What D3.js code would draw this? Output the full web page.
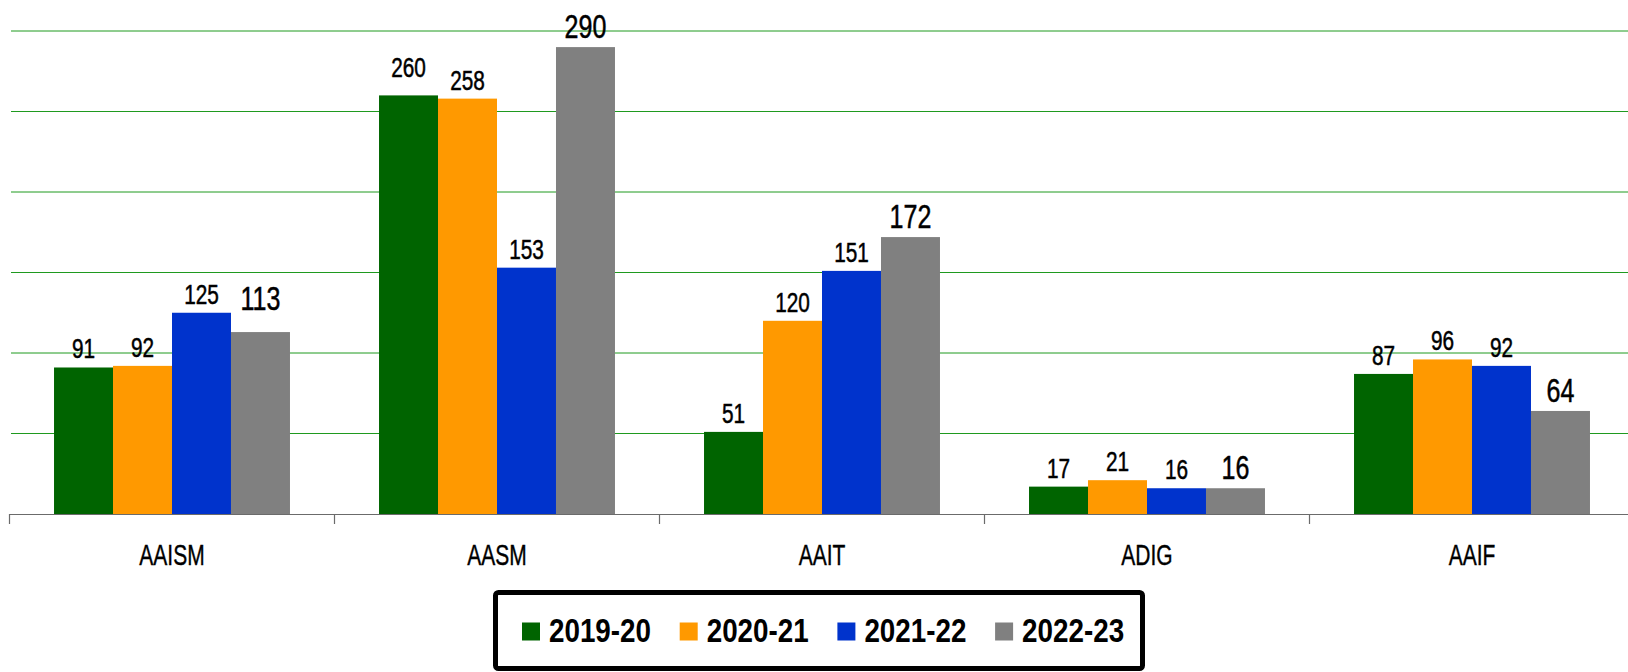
<!DOCTYPE html>
<meta charset="utf-8">
<head>
    <meta charset="utf-8">
    <title>Grouped bars</title>
    <script src="https://d3js.org/d3.v7.min.js"></script>
    <style>
        body { margin: 0; background: #fff; }
        text { font-family: "Liberation Sans", Arial, sans-serif; }
    </style>
</head>
<body>
    <svg width="1628" height="672"></svg>
    <script>
        // data
        var categories = ["AAISM", "AASM", "AAIT", "ADIG", "AAIF"];
        var seriesNames = ["2019-20", "2020-21", "2021-22", "2022-23"];
        var v2019 = [91, 260, 51, 17, 87];
        var v2020 = [92, 258, 120, 21, 96];
        var v2021 = [125, 153, 151, 16, 92];
        var v2022 = [113, 290, 172, 16, 64];
        var yTicks = [0, 50, 100, 150, 200, 250, 300];

        var colors = ["#006400", "#ff9900", "#0033cc", "#808080"];
        var allValues = [v2019, v2020, v2021, v2022];

        // a couple of labels sit a bit higher in the original
        var labelLift = { "AASM|0": 9, "AAISM|3": 13 };

        var svg = d3.select("svg");

        var x0 = d3.scaleBand()
            .domain(categories)
            .range([9.5, 9.5 + 325 * 5])
            .paddingInner(0.274)
            .paddingOuter(0.137);

        var x1 = d3.scaleBand()
            .domain(d3.range(seriesNames.length))
            .range([0, x0.bandwidth()]);

        var y = d3.scaleLinear()
            .domain([0, 300])
            .range([514, 31]);

        // gridlines
        svg.append("g")
            .selectAll("line")
            .data(yTicks.filter(function (d) { return d > 0; }))
            .enter().append("line")
            .attr("x1", 11)
            .attr("x2", 1628)
            .attr("y1", function (d) { return y(d); })
            .attr("y2", function (d) { return y(d); })
            .style("stroke", "#1f9a1f")
            .style("stroke-width", 1);

        // bars
        var groups = svg.append("g")
            .selectAll("g")
            .data(categories)
            .enter().append("g")
            .attr("transform", function (d) { return "translate(" + x0(d) + ",0)"; });

        function rows(c, ci) {
            return allValues.map(function (vals, si) { return { cat: c, s: si, v: vals[ci] }; });
        }

        groups.selectAll("rect")
            .data(rows)
            .enter().append("rect")
            .attr("x", function (d) { return x1(d.s); })
            .attr("width", x1.bandwidth())
            .attr("y", function (d) { return y(d.v); })
            .attr("height", function (d) { return y(0) - y(d.v); })
            .style("fill", function (d) { return colors[d.s]; });

        // value labels (condensed look via horizontal squeeze)
        groups.selectAll("g.lbl")
            .data(rows)
            .enter().append("g")
            .attr("class", "lbl")
            .attr("transform", function (d) {
                var lift = labelLift[d.cat + "|" + d.s] || 0;
                return "translate(" + (x1(d.s) + x1.bandwidth() / 2) + "," + (y(d.v) - 9 - lift) + ")";
            })
            .append("text")
            .attr("text-anchor", "middle")
            .attr("transform", "scale(0.77,1)")
            .style("font-size", function (d) { return d.s == 3 ? "32.5px" : "27px"; })
            .style("stroke", "#000")
            .style("stroke-width", 0.5)
            .style("fill", "#000")
            .text(function (d) { return d.v; });

        // x axis
        var axis = svg.append("g");
        axis.append("line")
            .attr("x1", 10).attr("x2", 1628)
            .attr("y1", 514.5).attr("y2", 514.5)
            .style("stroke", "#6b6b6b")
            .style("stroke-width", 1.2);

        axis.selectAll("line.tick")
            .data(categories)
            .enter().append("line")
            .attr("class", "tick")
            .attr("x1", function (d) { return x0(d) - x0.step() * 0.137; })
            .attr("x2", function (d) { return x0(d) - x0.step() * 0.137; })
            .attr("y1", 514)
            .attr("y2", 524)
            .style("stroke", "#6b6b6b")
            .style("stroke-width", 1.2);

        axis.selectAll("g.cat")
            .data(categories)
            .enter().append("g")
            .attr("class", "cat")
            .attr("transform", function (d) { return "translate(" + (x0(d) + x0.bandwidth() / 2) + ",565)"; })
            .append("text")
            .attr("text-anchor", "middle")
            .attr("transform", "scale(0.70,1)")
            .style("font-size", "30px")
            .style("stroke", "#000")
            .style("stroke-width", 0.4)
            .style("fill", "#000")
            .text(function (d) { return d; });

        // legend
        var legend = svg.append("g");
        legend.append("rect")
            .attr("x", 495.5).attr("y", 592.5)
            .attr("width", 647).attr("height", 76)
            .attr("rx", 3)
            .style("fill", "#fff")
            .style("stroke", "#000")
            .style("stroke-width", 5);

        var item = legend.selectAll("g.item")
            .data(seriesNames)
            .enter().append("g")
            .attr("class", "item")
            .attr("transform", function (d, i) { return "translate(" + (522 + i * 157.7) + ",0)"; });

        item.append("rect")
            .attr("x", 0).attr("y", 622.5)
            .attr("width", 18).attr("height", 18)
            .style("fill", function (d, i) { return colors[i]; });

        item.append("g")
            .attr("transform", "translate(27,642)")
            .append("text")
            .attr("transform", "scale(0.83,1)")
            .style("font-size", "33.5px")
            .style("font-weight", "bold")
            .style("fill", "#000")
            .text(function (d) { return d; });
    </script>
</body>
